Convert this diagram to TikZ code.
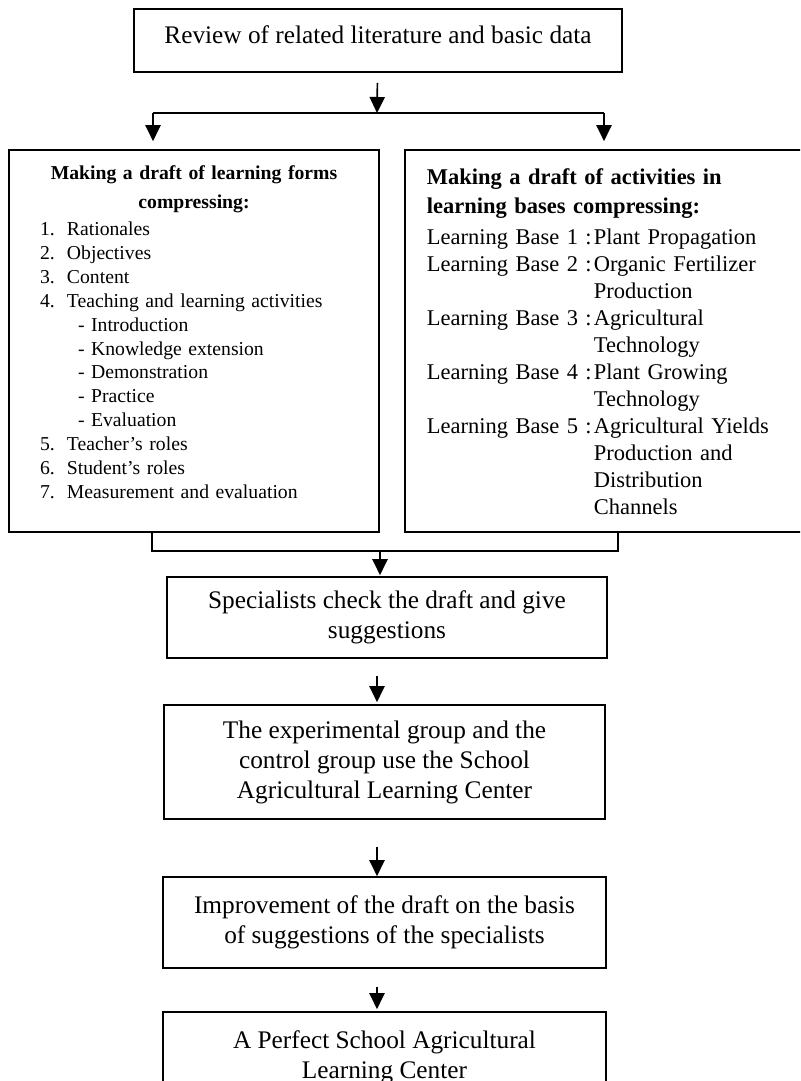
\documentclass[tikz,border=0pt]{standalone}
\usepackage{fontspec}
\setmainfont{Liberation Serif}
\usetikzlibrary{arrows.meta, positioning}

\newcommand{\formitem}[2]{\makebox[0.675cm][l]{#1}#2}
\newcommand{\formsub}[1]{\hspace*{0.95cm}- #1}
\newcommand{\baseitem}[2]{\makebox[4.175cm][l]{Learning Base #1 :}#2}
\newcommand{\basemore}[1]{\hspace*{4.175cm}#1}

\begin{document}
\begin{tikzpicture}[>={Triangle[length=4mm, width=3.8mm]}, line width=1.2pt]
			\tikzstyle{box} = [draw=black, rectangle, align=center, font=\fontsize{18}{21.3}\selectfont]
			\tikzstyle{panel} = [draw=black, rectangle, minimum height=9.55cm]
			\tikzstyle{paneltext} = [inner sep=0pt, align=left]

			\useasboundingbox (0, 0) rectangle (20, -27.025);
			\clip (0, 0) rectangle (20, -27.025);

			\node[box, minimum width=12.2cm, minimum height=1.575cm, text depth=3mm] at (9.45, -1.0125) (review) {Review of related literature and basic data};

			\coordinate (split) at (9.425, -2.825);
			\coordinate (brL) at (3.825, -2.825);
			\coordinate (brR) at (15.1, -2.825);

			\node[panel, minimum width=9.25cm] at (4.85, -8.525) (forms) {};
			\node[panel, minimum width=10.125cm] at (15.1875, -8.525) (bases) {};

			\node[paneltext, anchor=north, text width=7.7cm, font=\fontsize{14}{17}\selectfont] at (4.85, -4.125) (formstext) {%
				\makebox[\linewidth]{\bfseries Making a draft of learning forms}\\[3.6pt]
				\makebox[\linewidth]{\bfseries compressing:}\\[2.1pt]
				\formitem{1.}{Rationales}\\
				\formitem{2.}{Objectives}\\
				\formitem{3.}{Content}\\
				\formitem{4.}{Teaching and learning activities}\\
				\formsub{Introduction}\\
				\formsub{Knowledge extension}\\
				\formsub{Demonstration}\\
				\formsub{Practice}\\
				\formsub{Evaluation}\\
				\formitem{5.}{Teacher's roles}\\
				\formitem{6.}{Student's roles}\\
				\formitem{7.}{Measurement and evaluation}};

			\node[paneltext, anchor=north west, text width=9cm, font=\fontsize{16}{19.2}\selectfont] at (10.65, -4.2) (basestext) {%
				\textbf{Making a draft of activities in}\\[1.4pt]
				\textbf{learning bases compressing:}\\[2.8pt]
				\baseitem{1}{Plant Propagation}\\
				\baseitem{2}{Organic Fertilizer}\\
				\basemore{Production}\\
				\baseitem{3}{Agricultural}\\
				\basemore{Technology}\\
				\baseitem{4}{Plant Growing}\\
				\basemore{Technology}\\
				\baseitem{5}{Agricultural Yields}\\
				\basemore{Production and}\\
				\basemore{Distribution}\\
				\basemore{Channels}};

			\coordinate (mL) at (3.8, -13.775);
			\coordinate (mC) at (9.5, -13.775);
			\coordinate (mR) at (15.45, -13.775);

			\node[box, minimum width=11cm, minimum height=2.025cm] at (9.675, -15.4375) (spec) {Specialists check the draft and give\\suggestions};
			\node[box, minimum width=11.025cm, minimum height=2.85cm] at (9.6125, -19.05) (exper) {The experimental group and the\\control group use the School\\Agricultural Learning Center};
			\node[box, minimum width=11.075cm, minimum height=2.275cm] at (9.6125, -23.0625) (improv) {Improvement of the draft on the basis\\of suggestions of the specialists};
			\node[box, minimum width=11.075cm, minimum height=2.275cm] at (9.6125, -26.4375) (perfect) {A Perfect School Agricultural\\Learning Center};

			% branch to the two drafts
			\draw[->, shorten <=0.25cm] (review) -- (split);
			\draw (brL) -- (brR);
			\draw[->, shorten >=0.2cm] (brL) -- (brL |- forms.north);
			\draw[->, shorten >=0.2cm] (brR) -- (brR |- bases.north);

			% join
			\draw (forms.south -| mL) -- (mL) -- (mR) -- (bases.south -| mR);
			\draw[->, shorten >=0.025cm] (mC) -- (spec.north -| mC);

			\draw[->, shorten <=0.425cm, shorten >=0.05cm] (spec.south -| split) -- (exper.north -| split);
			\draw[->, shorten <=0.675cm] (exper.south -| split) -- (improv.north -| split);
			\draw[->, shorten <=0.45cm, shorten >=0.05cm] (improv.south -| split) -- (perfect.north -| split);
\end{tikzpicture}
\end{document}
